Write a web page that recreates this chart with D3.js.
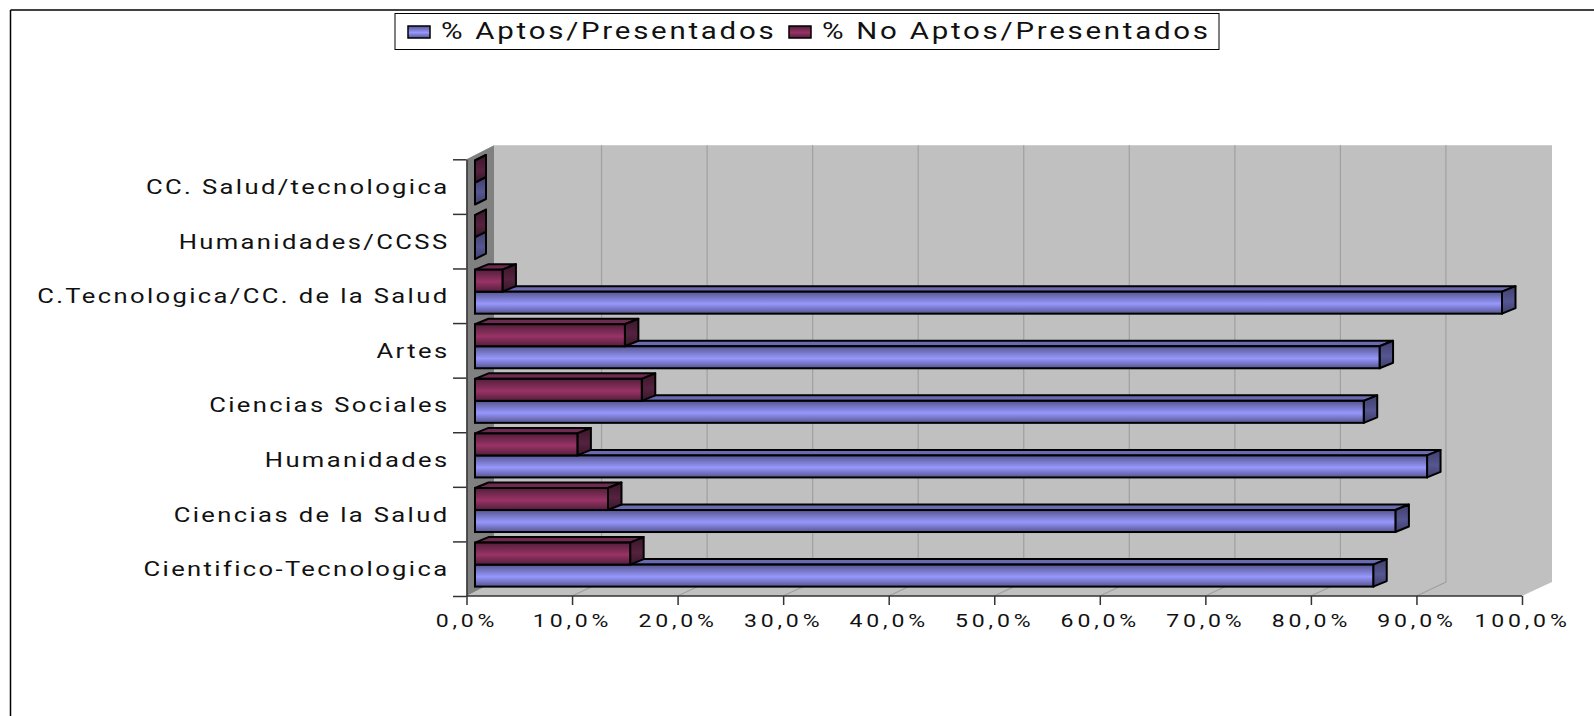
<!DOCTYPE html>
<html>
<head>
  <meta charset="utf-8">
  <style>
    html, body { margin: 0; padding: 0; background: #fff; }
    svg { display: block; }
    svg text { font-family: Roboto, sans-serif; fill: #111; }
    .cat text { font-size: 20px; letter-spacing: 1.85px; }
    .val text { font-size: 18px; letter-spacing: 3px; }
    .legend text { font-size: 23px; letter-spacing: 2.15px; }
    .axis path, .axis line { stroke: #333; stroke-width: 1.5px; }
  </style>
</head>
<body>
<script src="https://d3js.org/d3.v7.min.js"></script>
<script>
  // data, bottom category first
  var categories = ["Cientifico-Tecnologica", "Ciencias de la Salud", "Humanidades", "Ciencias Sociales",
                    "Artes", "C.Tecnologica/CC. de la Salud", "Humanidades/CCSS", "CC. Salud/tecnologica"];
  var aptos   = [85.1, 87.2, 90.2, 84.2, 85.7, 97.3, 0, 0];
  var noAptos = [14.7, 12.6,  9.7, 15.8, 14.2,  2.6, 0, 0];
  var seriesNames = ["% Aptos/Presentados", "% No Aptos/Presentados"];
  var xTicks = [0, 10, 20, 30, 40, 50, 60, 70, 80, 90, 100];

  var W = 1594, H = 716;
  var x0 = 466.5, x1 = 1522, yTop = 159.3, yBot = 596;
  var wallDx = 29, wallDy = -14;    // depth of the walls
  var barShift = { x: 8.5, y: -4 }; // bars stand in the middle of the depth
  var barDx = 13.5, barDy = -5.5;   // depth of a bar
  var emptyDx = 11;                 // empty bars come out a bit thinner
  var stretch = 1.28;               // the original text is drawn wide

  var svg = d3.select("body").append("svg").attr("width", W).attr("height", H);

  var x = d3.scaleLinear().domain([0, 100]).range([x0, x1]);
  var y = d3.scaleBand().domain(categories).range([yBot, yTop]);
  var yEdge = d3.scaleLinear().domain([0, categories.length]).range([yBot, yTop]);
  var inner = d3.scaleBand().domain(["no", "apto"]).range([1.2, 45.2]);

  // gradients: dark at top and bottom, bright a little below the middle
  var defs = svg.append("defs");
  function gradient(id, dark, light) {
    var g = defs.append("linearGradient").attr("id", id).attr("x1", 0).attr("y1", 0).attr("x2", 0).attr("y2", 1);
    [[0, dark], [0.55, light], [1, dark]].forEach(function (s) {
      g.append("stop").attr("offset", s[0]).attr("stop-color", s[1]);
    });
  }
  gradient("blueFront", "#55558f", "#9797fd");
  gradient("redFront", "#521f3b", "#993366");
  gradient("blueSide", "#3f3f6c", "#565691");
  gradient("redSide", "#3a1629", "#55223f");

  function poly(pts) { return pts.map(function (p) { return p.join(","); }).join(" "); }

  // frame
  svg.append("line").attr("x1", 10.5).attr("y1", 10).attr("x2", W).attr("y2", 10).attr("stroke", "#000").attr("stroke-width", 1.5);
  svg.append("line").attr("x1", 10.5).attr("y1", 10).attr("x2", 10.5).attr("y2", H).attr("stroke", "#000").attr("stroke-width", 1.5);

  // walls and floor
  svg.append("polygon").attr("fill", "#c0c0c0").attr("points", poly([
    [x(0) + wallDx - 1.5, yTop + wallDy], [x(100) + wallDx + 1, yTop + wallDy],
    [x(100) + wallDx + 1, yBot + wallDy], [x(100), yBot], [x(0), yBot], [x(0) + wallDx - 1.5, yBot + wallDy]]));
  svg.append("polygon").attr("fill", "#808080").attr("points", poly([
    [x(0), yTop], [x(0) + wallDx - 1.5, yTop + wallDy], [x(0) + wallDx - 1.5, yBot + wallDy], [x(0), yBot]]));

  // grid, back wall plus the run across the floor
  svg.append("g").selectAll("polyline").data(xTicks.slice(1, -1)).join("polyline")
    .attr("fill", "none").attr("stroke", "#a0a0a0").attr("stroke-width", 1.2)
    .attr("points", function (d) {
      return poly([[x(d) + wallDx + 0.5, yTop + wallDy], [x(d) + wallDx + 0.5, yBot + wallDy], [x(d), yBot]]);
    });

  // bars, top category first so the lower ones sit in front
  var rows = categories.map(function (c, i) { return { cat: c, apto: aptos[i], no: noAptos[i] }; }).reverse();
  var row = svg.append("g").selectAll("g").data(rows).join("g")
    .attr("transform", function (d) { return "translate(" + barShift.x + "," + (y(d.cat) + barShift.y + 4) + ")"; });

  function bars(key, front, side, top) {
    var h = inner.bandwidth(), t = inner(key);
    function depth(d) { return d[key] ? barDx : emptyDx; }
    row.append("polygon").attr("fill", top).attr("stroke", "#000").attr("stroke-width", 2).attr("stroke-linejoin", "round")
      .attr("points", function (d) {
        return poly([[x(0), t], [x(0) + depth(d), t + barDy], [x(d[key]) + depth(d), t + barDy], [x(d[key]), t]]);
      });
    row.append("polygon").attr("fill", "url(#" + side + ")").attr("stroke", "#000").attr("stroke-width", 2).attr("stroke-linejoin", "round")
      .attr("points", function (d) {
        return poly([[x(d[key]), t], [x(d[key]) + depth(d), t + barDy], [x(d[key]) + depth(d), t + barDy + h], [x(d[key]), t + h]]);
      });
    row.append("rect").attr("fill", "url(#" + front + ")").attr("stroke", "#000").attr("stroke-width", 2)
      .attr("x", x(0)).attr("y", t).attr("height", h)
      .attr("width", function (d) { return x(d[key]) - x(0); });
  }
  bars("apto", "blueFront", "blueSide", "#6a6ab0");
  bars("no", "redFront", "redSide", "#6e2a50");

  // axes
  var xAxis = d3.axisBottom(x).tickValues(xTicks).tickSize(9).tickSizeOuter(0).tickPadding(10)
    .tickFormat(function (d) { return d.toFixed(1).replace(".", ",") + "%"; });
  svg.append("g").attr("class", "axis val").attr("transform", "translate(0," + yBot + ")").call(xAxis)
    .call(function (g) { g.select(".domain").attr("d", "M" + x(0) + ",0H" + x(100)); });
  svg.selectAll(".val .tick text").attr("y", 0)
    .attr("transform", "translate(0,18) scale(" + stretch + ",1)");

  // tick marks sit between the categories, so two axes on one line
  var edgeAxis = d3.axisLeft(yEdge).tickValues(d3.range(0, categories.length + 1)).tickSize(13.5).tickSizeOuter(0).tickFormat("");
  svg.append("g").attr("class", "axis").attr("transform", "translate(" + x0 + ",0)").call(edgeAxis);
  var catAxis = d3.axisLeft(y).tickSize(0);
  svg.append("g").attr("class", "cat").attr("transform", "translate(" + x0 + ",0)").call(catAxis)
    .call(function (g) { g.select(".domain").remove(); });
  svg.selectAll(".cat .tick text").attr("x", 0)
    .attr("transform", "translate(-17,1) scale(" + stretch + ",1)");

  // legend
  var legendX = [408, 789], legendTextX = [441, 822];
  var legend = svg.append("g").attr("class", "legend");
  legend.append("rect").attr("x", 395).attr("y", 13.5).attr("width", 824).attr("height", 36)
    .attr("fill", "#fff").attr("stroke", "#000").attr("stroke-width", 1);
  seriesNames.forEach(function (name, i) {
    legend.append("rect").attr("x", legendX[i]).attr("y", 26).attr("width", 22).attr("height", 12)
      .attr("fill", "url(#" + (i ? "redFront" : "blueFront") + ")").attr("stroke", "#000").attr("stroke-width", 1.5);
    legend.append("text").attr("transform", "translate(" + legendTextX[i] + ",39) scale(" + stretch + ",1)").text(name);
  });
</script>
</body>
</html>
